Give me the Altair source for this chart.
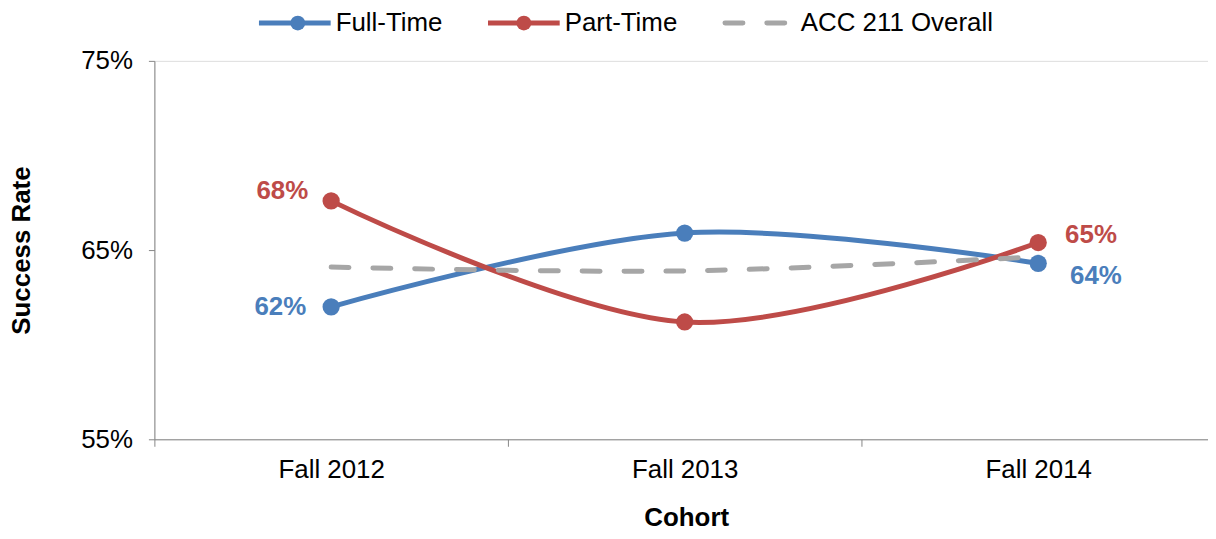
import altair as alt
import pandas as pd

cohorts = ["Fall 2012", "Fall 2013", "Fall 2014"]
series = ["Full-Time", "Part-Time", "ACC 211 Overall"]
full_time = [0.620, 0.659, 0.643]
part_time = [0.676, 0.612, 0.654]
overall = [0.641, 0.639, 0.6465]
y_ticks = [0.55, 0.65, 0.75]
colors = ["#4A7EBB", "#BE4B48", "#A6A6A6"]

FONT = "Liberation Sans"

rows = []
for s, vals in zip(series, [full_time, part_time, overall]):
    for c, v in zip(cohorts, vals):
        rows.append({"cohort": c, "series": s, "rate": v})
df = pd.DataFrame(rows)
legend_df = pd.DataFrame({"label": series})

x_enc = alt.X(
    "cohort:N",
    sort=cohorts,
    bandPosition=0.5,
    scale=alt.Scale(type="band", domain=cohorts, rangeMax=1065, paddingInner=0, paddingOuter=0),
    axis=alt.Axis(
        title="Cohort", tickBand="extent", labelAngle=0, labelFont=FONT, labelFontSize=26,
        labelColor="#000000", labelPadding=10, domainColor="#868686", tickColor="#868686",
        tickSize=7, grid=False, titleFont=FONT, titleFontSize=26, titleFontWeight="bold",
        titleColor="#000000", titleX=534, titleY=79, titleAlign="center", titleBaseline="middle",
    ),
)
y_enc = alt.Y(
    "rate:Q",
    scale=alt.Scale(domain=[0.55, 0.75], nice=False, zero=False),
    axis=alt.Axis(
        values=y_ticks, format=".0%", title="Success Rate", grid=False, labelFont=FONT,
        labelFontSize=26, labelColor="#000000", labelPadding=16, domainColor="#868686",
        tickColor="#868686", tickSize=6, titleFont=FONT, titleFontSize=26, titleFontWeight="bold",
        titleColor="#000000", titleX=-133, titleY=190, titleAngle=270, titleAlign="center",
        titleBaseline="middle",
    ),
)

base = alt.Chart(df)
layers = []

# series lines and markers
for s, col in zip(series[:2], colors[:2]):
    sub = base.transform_filter(alt.datum.series == s)
    layers.append(sub.mark_line(interpolate="cardinal", strokeWidth=5, color=col).encode(x=x_enc, y=y_enc))
    layers.append(sub.mark_circle(size=300, opacity=1, color=col).encode(x=x_enc, y=y_enc))

layers.append(
    base.transform_filter(alt.datum.series == series[2])
    .mark_line(interpolate="cardinal", strokeWidth=5, color=colors[2], strokeDash=[18, 24], strokeCap="round")
    .encode(x=x_enc, y=y_enc)
)

# data labels at the end points
label_specs = [
    ("Part-Time", "Fall 2012", colors[1], "right", -23, -10),
    ("Full-Time", "Fall 2012", colors[0], "right", -25, 0),
    ("Part-Time", "Fall 2014", colors[1], "left", 27, -8),
    ("Full-Time", "Fall 2014", colors[0], "left", 32, 13),
]
for s, c, col, al, dx, dy in label_specs:
    layers.append(
        base.transform_filter((alt.datum.series == s) & (alt.datum.cohort == c))
        .mark_text(font=FONT, fontSize=26, fontWeight="bold", color=col, align=al,
                   baseline="middle", dx=dx, dy=dy)
        .encode(x=x_enc, y=y_enc, text=alt.Text("rate:Q", format=".0%"))
    )

# manual legend above plot
leg = alt.Chart(legend_df)
leg_y = -38
leg_specs = [
    (series[0], colors[0], 105, 177, 144, 182),
    (series[1], colors[1], 335, 407, 371, 412),
    (series[2], colors[2], 573, 637, None, 649),
]
for lab, col, x1, x2, xc, xt in leg_specs:
    sub = leg.transform_filter(alt.datum.label == lab)
    if xc is None:
        layers.append(sub.mark_rule(color=col, strokeWidth=5, strokeDash=[18, 24], strokeCap="round").encode(
            x=alt.value(x1), x2=alt.value(x2), y=alt.value(leg_y)))
    else:
        layers.append(sub.mark_rule(color=col, strokeWidth=5).encode(
            x=alt.value(x1), x2=alt.value(x2), y=alt.value(leg_y)))
        layers.append(sub.mark_circle(color=col, size=220, opacity=1).encode(
            x=alt.value(xc), y=alt.value(leg_y)))
    layers.append(sub.mark_text(font=FONT, fontSize=26, color="#000000", align="left", baseline="middle").encode(
        x=alt.value(xt), y=alt.value(leg_y), text="label:N"))

chart = (
    alt.layer(*layers)
    .properties(
        width=1058, height=380,
        autosize=alt.AutoSizeParams(type="none"),
        padding={"left": 147, "top": 52, "right": 0, "bottom": 90},
    )
    .configure_view(stroke=None)
    .configure(font=FONT, background="#ffffff")
)

chart.save("out.html", embed_options={"renderer": "svg", "actions": False})
